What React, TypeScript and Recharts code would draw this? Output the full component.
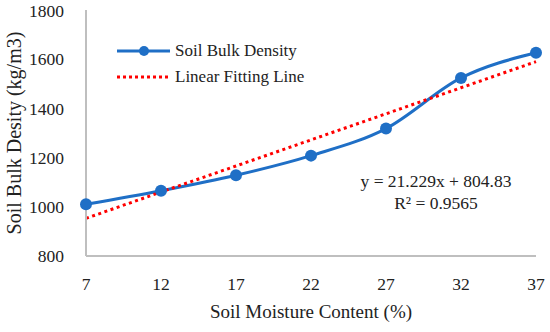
import { LineChart, Line, XAxis, YAxis } from "recharts"

const moisture = [7, 12, 17, 22, 27, 32, 37]
const bulkDensity = [1010, 1065, 1128, 1208, 1318, 1524, 1626]
const fitLine = [953, 1060, 1166, 1272, 1378, 1484, 1590]
const yTicks = [800, 1000, 1200, 1400, 1600, 1800]

const data = moisture.map((m, i) => ({ x: m, density: bulkDensity[i], fit: fitLine[i] }))

const FONT = "'Liberation Serif', 'DejaVu Serif', serif"

function LegendBox() {
  return (
    <div style={{ position: "absolute", left: 116, top: 38, fontFamily: FONT, fontSize: 17, color: "#222" }}>
      <div style={{ display: "flex", alignItems: "center", height: 26 }}>
        <svg width={56} height={14}>
          <line x1={1} y1={7} x2={54} y2={7} stroke="#1f6fc6" strokeWidth={3} />
          <circle cx={28} cy={7} r={5} fill="#1f6fc6" />
        </svg>
        <span style={{ marginLeft: 3 }}>Soil Bulk Density</span>
      </div>
      <div style={{ display: "flex", alignItems: "center", height: 26 }}>
        <svg width={56} height={14}>
          <line x1={1} y1={7} x2={54} y2={7} stroke="#ff0000" strokeWidth={3} strokeDasharray="3 3" />
        </svg>
        <span style={{ marginLeft: 3 }}>Linear Fitting Line</span>
      </div>
    </div>
  )
}

export default function App() {
  return (
    <div style={{ position: "relative", width: 550, height: 332, background: "#fff" }}>
      <style>{`body{margin:0}`}</style>
      <LineChart width={550} height={332} data={data} margin={{ top: 10, right: 14, bottom: 14, left: 0 }}>
        <XAxis
          dataKey="x"
          type="number"
          domain={[7, 37]}
          ticks={moisture}
          tickLine={false}
          axisLine={{ stroke: "#bfbfbf", strokeWidth: 2 }}
          tick={{ fill: "#222", fontSize: 17.5, fontFamily: FONT }}
          tickMargin={16}
          height={62}
          label={{ value: "Soil Moisture Content (%)", position: "insideBottom", offset: 0, fill: "#222", fontSize: 19, fontFamily: FONT }}
        />
        <YAxis
          domain={[800, 1800]}
          ticks={yTicks}
          tickLine={false}
          axisLine={{ stroke: "#bfbfbf", strokeWidth: 2 }}
          tick={{ fill: "#222", fontSize: 17.5, fontFamily: FONT }}
          tickMargin={16}
          width={86}
          label={{ value: "Soil Bulk Desity (kg/m3)", angle: -90, position: "insideLeft", offset: 14, style: { textAnchor: "middle" }, fill: "#222", fontSize: 20, fontFamily: FONT }}
        />
        <Line
          dataKey="density"
          type="monotone"
          stroke="#1f6fc6"
          strokeWidth={3}
          dot={{ r: 6, fill: "#1f6fc6", stroke: "#1f6fc6", strokeWidth: 0 }}
          isAnimationActive={false}
        />
        <Line
          dataKey="fit"
          type="linear"
          stroke="#ff0000"
          strokeWidth={3}
          strokeDasharray="3 3.5"
          dot={false}
          isAnimationActive={false}
        />
      </LineChart>
      <LegendBox />
      <div
        style={{
          position: "absolute",
          left: 336,
          top: 170,
          width: 200,
          textAlign: "center",
          fontFamily: FONT,
          fontSize: 17.5,
          lineHeight: "22px",
          color: "#222",
        }}
      >
        <div>y = 21.229x + 804.83</div>
        <div>R² = 0.9565</div>
      </div>
    </div>
  )
}
